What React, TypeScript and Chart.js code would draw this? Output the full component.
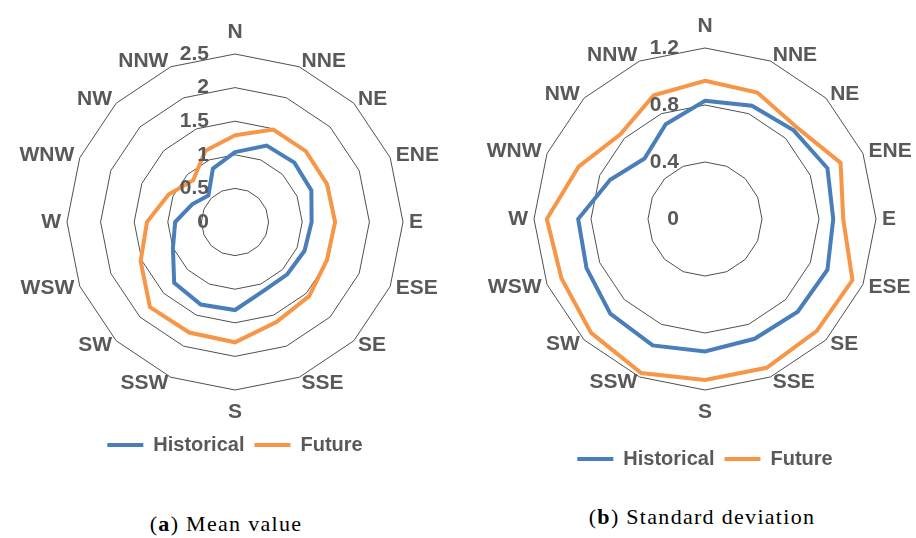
import React, { useEffect, useRef } from 'react';
import { Chart, registerables } from 'chart.js';

Chart.register(...registerables);

const directions = ['N', 'NNE', 'NE', 'ENE', 'E', 'ESE', 'SE', 'SSE', 'S', 'SSW', 'SW', 'WSW', 'W', 'WNW', 'NW', 'NNW'];
const seriesNames = ['Historical', 'Future'];

const meanHistorical = [1.04, 1.23, 1.25, 1.23, 1.14, 1.12, 1.10, 1.11, 1.31, 1.33, 1.28, 1.00, 0.89, 0.69, 0.56, 0.86];
const meanFuture = [1.29, 1.49, 1.49, 1.48, 1.49, 1.48, 1.56, 1.61, 1.79, 1.78, 1.79, 1.52, 1.31, 1.07, 0.88, 1.15];
const meanTicks = [0, 0.5, 1, 1.5, 2, 2.5];

const stdHistorical = [0.83, 0.86, 0.88, 0.93, 0.90, 0.93, 0.92, 0.91, 0.93, 0.96, 0.94, 0.90, 0.89, 0.72, 0.60, 0.72];
const stdFuture = [0.97, 0.96, 0.91, 1.03, 0.97, 1.12, 1.11, 1.13, 1.13, 1.17, 1.13, 1.09, 1.11, 0.96, 0.84, 0.94];
const stdTicks = [0, 0.4, 0.8, 1.2];

const BLUE = '#4a7ebb';
const ORANGE = '#f79646';
const TEXT = '#595959';
const GRID = '#505050';
const FONT_FAMILY = '"Liberation Sans", Arial, sans-serif';

function makeLabelPlugin(labels: string[], ticks: number[]) {
  return {
    id: 'excelLabels',
    afterDraw(chart: any) {
      const scale = chart.scales.r;
      const ctx = chart.ctx;
      ctx.save();
      ctx.font = `bold 21px ${FONT_FAMILY}`;
      ctx.fillStyle = TEXT;
      ctx.textBaseline = 'middle';
      labels.forEach((lab, i) => {
        const angle = scale.getIndexAngle(i);
        const s = Math.sin(angle);
        const vertical = Math.abs(s) < 0.01;
        const p = scale.getPointPosition(i, scale.drawingArea + (vertical ? 22 : 6));
        ctx.textAlign = vertical ? 'center' : s > 0 ? 'left' : 'right';
        ctx.fillText(lab, p.x, p.y);
      });
      ticks.forEach((v) => {
        const d = scale.getDistanceFromCenterForValue(v);
        ctx.textAlign = 'right';
        ctx.fillText(String(v), scale.xCenter - 26, scale.yCenter - d);
      });
      ctx.restore();
    },
  };
}

type PanelProps = {
  hist: number[];
  fut: number[];
  ticks: number[];
  padding: { left: number; right: number; top: number; bottom: number };
  style: React.CSSProperties;
};

function RadarPanel({ hist, fut, ticks, padding, style }: PanelProps) {
  const ref = useRef<HTMLCanvasElement | null>(null);
  useEffect(() => {
    if (!ref.current) return;
    const max = ticks[ticks.length - 1];
    const step = ticks[1] - ticks[0];
    const chart = new Chart(ref.current, {
      type: 'radar',
      data: {
        labels: directions,
        datasets: [
          {
            label: seriesNames[0],
            data: hist,
            borderColor: BLUE,
            backgroundColor: BLUE,
            borderWidth: 4,
            pointRadius: 0,
            pointStyle: 'line',
            fill: false,
          },
          {
            label: seriesNames[1],
            data: fut,
            borderColor: ORANGE,
            backgroundColor: ORANGE,
            borderWidth: 4,
            pointRadius: 0,
            pointStyle: 'line',
            fill: false,
          },
        ],
      },
      options: {
        animation: false,
        responsive: true,
        maintainAspectRatio: false,
        layout: { padding },
        scales: {
          r: {
            min: 0,
            max,
            ticks: { display: false, stepSize: step },
            grid: { color: GRID, lineWidth: 1, circular: false },
            angleLines: { display: false },
            pointLabels: { display: false },
          },
        },
        plugins: {
          tooltip: { enabled: false },
          legend: {
            display: true,
            position: 'bottom',
            labels: {
              usePointStyle: true,
              pointStyleWidth: 36,
              padding: 10,
              color: TEXT,
              font: { family: FONT_FAMILY, size: 20, weight: 'bold' },
            },
          },
        },
      },
      plugins: [makeLabelPlugin(directions, ticks)],
    } as any);
    return () => chart.destroy();
  }, [hist, fut, ticks]);
  return (
    <div style={{ position: 'absolute', ...style }}>
      <canvas ref={ref} />
    </div>
  );
}

const captionStyle: React.CSSProperties = {
  position: 'absolute',
  width: 320,
  textAlign: 'center',
  fontFamily: '"Liberation Serif", "Times New Roman", serif',
  fontSize: 22,
  lineHeight: '24px',
  letterSpacing: '1.3px',
  color: '#000',
  whiteSpace: 'nowrap',
};

export default function App() {
  return (
    <div style={{ position: 'fixed', left: 0, top: 0, width: 916, height: 538, background: '#fff', overflow: 'hidden' }}>
      <RadarPanel
        hist={meanHistorical}
        fut={meanFuture}
        ticks={meanTicks}
        padding={{ left: 67, right: 57, top: 20, bottom: 5 }}
        style={{ left: 0, top: 0, width: 460, height: 470 }}
      />
      <RadarPanel
        hist={stdHistorical}
        fut={stdFuture}
        ticks={stdTicks}
        padding={{ left: 74, right: 40, top: 0, bottom: 11 }}
        style={{ left: 460, top: 0, width: 456, height: 490 }}
      />
      <div style={{ ...captionStyle, left: 226 - 160, top: 512 }}>
        (<b>a</b>) Mean value
      </div>
      <div style={{ ...captionStyle, left: 702 - 160, top: 505 }}>
        (<b>b</b>) Standard deviation
      </div>
    </div>
  );
}
